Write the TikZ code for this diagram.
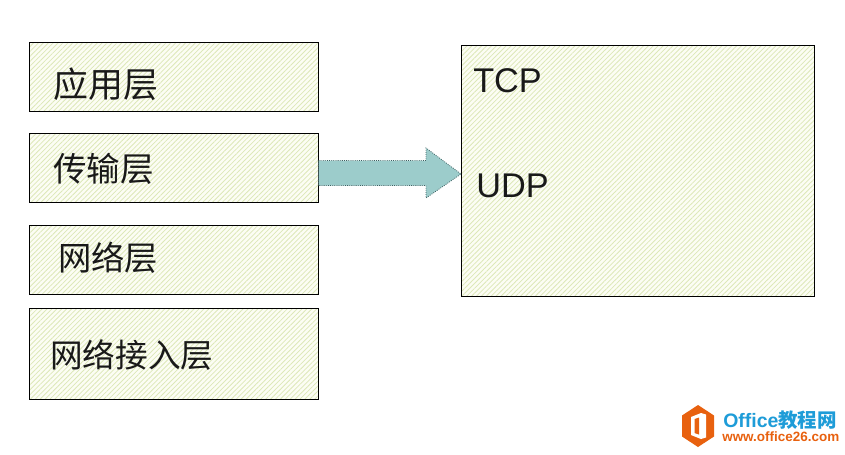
\documentclass[tikz,border=0pt]{standalone}
\usepackage{fontspec}
\setmainfont{Liberation Sans}
\newfontfamily\cjk{Noto Sans CJK SC}
\usetikzlibrary{patterns.meta}
\definecolor{paleg}{HTML}{FCFDF4}
\definecolor{hatchg}{HTML}{DDE8B8}
\definecolor{arrowc}{HTML}{9CCCCB}
\definecolor{arrowe}{HTML}{3F6062}
\definecolor{logoo}{HTML}{E8610F}
\definecolor{logob}{HTML}{1E9CD8}
\tikzset{
  x=0.75pt,y=-0.75pt,
  layerbox/.style={draw=black,line width=0.6pt,preaction={fill=paleg},pattern={Lines[angle=45,distance=2.6pt,line width=0.6pt]},pattern color=hatchg},
  cn/.style={font=\cjk\fontsize{#1}{28pt}\selectfont,text=black!90,inner sep=0,anchor=west},
  en/.style={font=\fontsize{25.7pt}{28pt}\selectfont,text=black!90,inner sep=0,anchor=west},
}
\begin{document}
\begin{tikzpicture}
\useasboundingbox (0,0) rectangle (845,454);
\fill[white] (0,0) rectangle (845,454);
\path[layerbox] (29.5,42.5) rectangle (318.5,111.5);
\path[layerbox] (29.5,133.5) rectangle (318.5,202.5);
\path[layerbox] (29.5,225.5) rectangle (318.5,294.5);
\path[layerbox] (29.5,308.5) rectangle (318.5,399.5);
\path[layerbox] (461.5,45.5) rectangle (814.5,296.5);
\node[cn=26.2pt] (a) at (53,84) {应用层};
\node[cn=25.2pt] (b) at (53,169) {传输层};
\node[cn=25pt] (c) at (58,258) {网络层};
\node[cn=24.5pt] (d) at (50,355) {网络接入层};
\node[en] (t) at (473,81) {TCP};
\node[en] (u) at (476,186) {UDP};
\draw[arrowe,line width=0.6pt,densely dotted,fill=arrowc] (318.5,160.5) -- (426,160.5) -- (426,148) -- (461,174) -- (426,198) -- (426,185.5) -- (318.5,185.5) -- cycle;
% logo
\fill[logoo] (698,405) -- (714,415.5) -- (714,436.5) -- (698,447) -- (682,436.5) -- (682,415.5) -- cycle;
\fill[white] (691,417) -- (701,413) -- (706,414.5) -- (706,437.5) -- (701,439) -- (691,435) -- cycle;
\fill[logoo] (694.5,419) -- (699,417.5) -- (699,434.5) -- (694.5,433) -- cycle;
\node[inner sep=0,anchor=west,text=logob,font=\bfseries\fontsize{14.6pt}{16pt}\selectfont] (l1) at (723,420) {Office\cjk 教程网};
\node[inner sep=0,anchor=west,text=logoo,font=\bfseries\fontsize{10.1pt}{12pt}\selectfont] (l2) at (722,437) {www.office26.com};
\end{tikzpicture}
\end{document}
